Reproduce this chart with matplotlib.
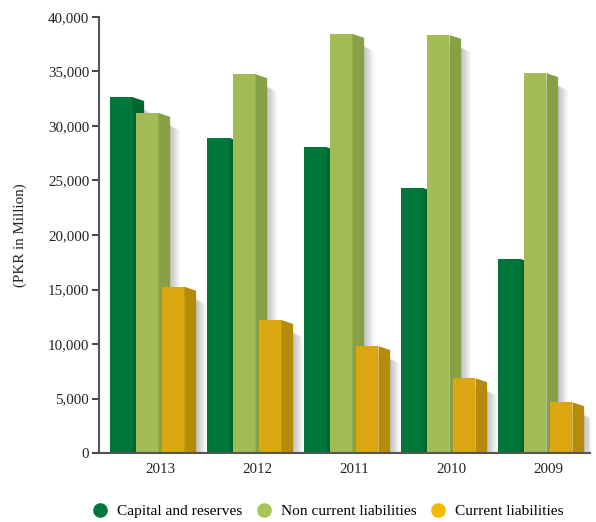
import matplotlib
matplotlib.use("Agg")
import matplotlib.pyplot as plt
from matplotlib.patches import Polygon
from matplotlib.ticker import FuncFormatter
from matplotlib.lines import Line2D

years = ["2013", "2012", "2011", "2010", "2009"]
capital = [32650, 28900, 28050, 24300, 17800]
non_current = [31200, 34750, 38450, 38350, 34850]
current = [15250, 12200, 9800, 6850, 4650]
series_names = ["Capital and reserves", "Non current liabilities", "Current liabilities"]

front_colors = ["#00773A", "#A3BB55", "#DAA711"]
side_colors = ["#00662F", "#88A045", "#B68B0A"]

plt.rcParams['font.family'] = ['Liberation Serif', 'DejaVu Serif']

fig = plt.figure(figsize=(5.96, 5.22), dpi=100)
ax = fig.add_axes([99/596, 1-453/522, 491/596, (453-17)/522])

w = 0.237
depth = 0.12
drop = 360
offsets = [-0.268, 0.0, 0.268]
series = [capital, non_current, current]

for si, vals in enumerate(series):
    xs = [i + offsets[si] for i in range(len(years))]
    # soft shadows
    for x, h in zip(xs, vals):
        xr = x + w/2
        for k in range(8):
            off = depth + 0.01 + k*0.013
            ax.add_patch(Polygon([(xr, h - drop - 500), (xr + off, h - drop - 700 - k*80),
                                  (xr + off, 0), (xr, 0)],
                                 closed=True, facecolor="#000000", alpha=0.03,
                                 edgecolor="none", zorder=1 + si*3))
    ax.bar(xs, vals, width=w, color=front_colors[si], zorder=2 + si*3, linewidth=0)
    for x, h in zip(xs, vals):
        xr = x + w/2
        ax.add_patch(Polygon([(xr, h), (xr + depth, h - drop),
                              (xr + depth, 0), (xr, 0)],
                             closed=True, facecolor=side_colors[si], edgecolor="none",
                             zorder=3 + si*3))

ax.set_xlim(-0.495, 4.567)
ax.set_ylim(0, 40000)
ax.set_yticks(range(0, 40001, 5000))
ax.yaxis.set_major_formatter(FuncFormatter(lambda v, p: f"{int(v):,}"))
ax.set_xticks([i + 0.134 for i in range(len(years))])
ax.set_xticklabels(years)
ax.tick_params(axis='x', length=0, pad=7, labelsize=10.8, colors="#222222")
ax.tick_params(axis='y', length=5, width=1.2, pad=2, labelsize=10.8, colors="#222222")
for s in ["top", "right"]:
    ax.spines[s].set_visible(False)
ax.spines["left"].set_color("#555555")
ax.spines["bottom"].set_color("#555555")
ax.spines["left"].set_linewidth(1.5)
ax.spines["bottom"].set_linewidth(1.5)
ax.spines["bottom"].set_zorder(20)

fig.text(20/596, 1-235/522, "(PKR in Million)", rotation=90, ha="center", va="center",
         fontsize=10.8, color="#222222")

handles = [Line2D([0], [0], marker='o', linestyle='none', markersize=9.5,
                  markerfacecolor=c, markeredgecolor=c) for c in ["#00773A", "#A8C558", "#F4B800"]]
fig.legend(handles, series_names, loc="center", bbox_to_anchor=(328/596, 1-511/522),
           ncol=3, frameon=False, fontsize=11.1, handletextpad=0.6, columnspacing=0.9,
           handlelength=1.0)

fig.savefig("out.png", dpi=100)
